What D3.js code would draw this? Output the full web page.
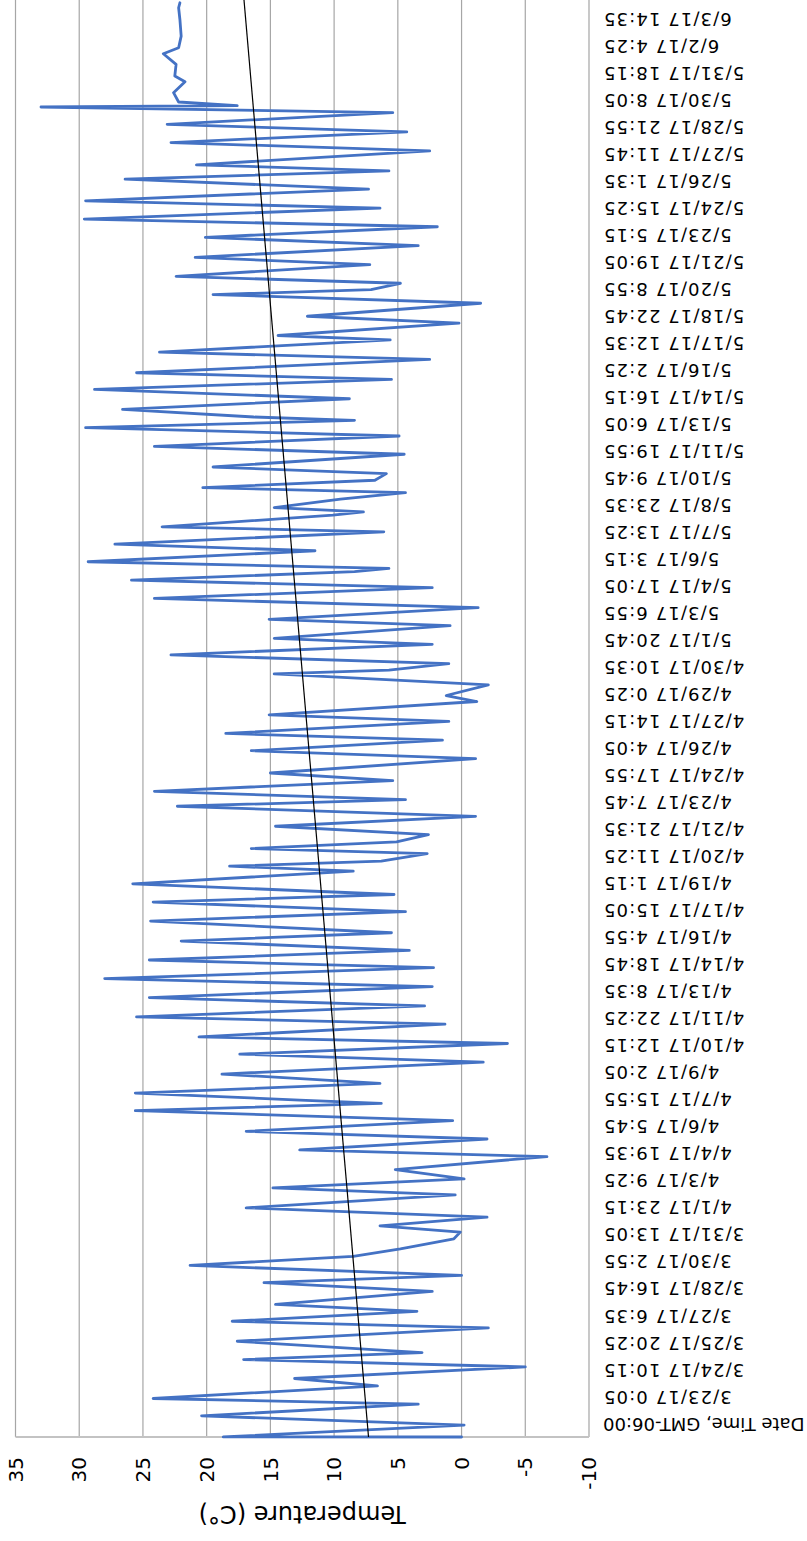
<!DOCTYPE html>
<html>
<head>
<meta charset="utf-8">
<script src="https://cdn.jsdelivr.net/npm/d3@7"></script>
<style>
  html, body { margin: 0; padding: 0; background: #fff; }
  svg { display: block; }
</style>
</head>
<body>
<div id="chart"></div>
<script>
// Logger readings: hours since the first category, and temperature in °C.
// The first category is the sheet header, which plots as zero.
const hours = [
  0, 0.1, 15.1, 26.8, 41.6, 48.7, 64.7, 74.0, 88.7, 98.0, 106.8, 121.1, 138.0, 146.4, 159.0, 167.8,
  184.3, 195.2, 204.5, 217.1, 228.4, 238.1, 250.7, 259.2, 267.2, 278.1, 289.9, 306.3, 315.1, 326.5,
  338.3, 354.7, 363.1, 377.0, 386.7, 400.2, 412.8, 422.0, 426.2, 435.1, 447.3, 459.1, 474.2, 484.3,
  497.8, 506.2, 522.2, 531.5, 545.3, 555.9, 569.8, 579.9, 593.8, 603.4, 615.6, 627.4, 637.9, 652.7,
  664.5, 676.7, 686.3, 699.8, 715.8, 722.1, 728.4, 738.1, 744.4, 752.8, 762.1, 772.6, 785.2, 797.9,
  806.3, 816.8, 830.3, 840.0, 858.1, 868.2, 881.6, 890.0, 905.2, 913.6, 930.4, 938.0, 951.5, 965.4,
  970.0, 978.4, 989.4, 1002.8, 1010.4, 1026.4, 1034.4, 1049.1, 1060.9, 1074.4, 1084.0, 1094.6,
  1098.8, 1107.2, 1121.1, 1129.5, 1145.1, 1151.4, 1166.1, 1170.3, 1175.8, 1186.3, 1194.7, 1201.0,
  1210.3, 1218.7, 1227.1, 1243.2, 1253.2, 1266.3, 1276.8, 1286.1, 1290.3, 1300.0, 1313.4, 1325.2,
  1337.9, 1346.3, 1363.1, 1372.4, 1387.9, 1393.4, 1409.0, 1417.8, 1434.2, 1445.2, 1451.5, 1459.5,
  1468.3, 1483.0, 1492.3, 1507.0, 1517.6, 1531.0, 1540.7, 1554.6, 1563.8, 1578.6, 1591.2, 1601.7,
  1609.3, 1627.0, 1637.5, 1651.0, 1660.6, 1675.4, 1682.5, 1684.2, 1688.8, 1700.6, 1714.5, 1721.7,
  1736.4, 1749.9, 1757.5, 1772.2, 1793.2, 1808.0, 1814.3
];
const temps = [
  0, 18.7, -0.2, 20.4, 3.4, 24.2, 6.6, 13.1, -5.0, 17.1, 3.1, 17.6, -2.1, 18.0, 3.5, 14.6,
  2.3, 15.5, 0.0, 21.3, 8.5, 4.8, 0.6, 0.1, 6.4, -2.0, 16.9, 0.5, 14.8, -0.2,
  5.2, -6.7, 12.7, -2.0, 16.9, 0.7, 25.6, 6.3, 12.7, 25.6, 6.4, 18.8, -1.7, 17.4,
  -3.6, 20.6, 1.3, 25.5, 2.9, 24.5, 2.3, 28.0, 2.2, 24.5, 4.1, 22.0, 5.5, 24.4,
  4.4, 24.2, 5.3, 25.8, 8.5, 18.2, 6.3, 2.7, 16.5, 5.1, 2.6, 14.6, -1.1, 22.3,
  4.4, 24.1, 5.4, 15.0, -1.1, 16.5, 1.5, 18.5, 1.0, 15.1, -1.2, 1.2, -2.1, 14.7,
  5.7, 1.0, 22.8, 2.3, 14.7, 0.9, 15.1, -1.3, 24.1, 2.3, 25.9, 8.4,
  5.7, 29.3, 11.5, 27.2, 6.1, 23.5, 10.1, 7.7, 14.7, 9.5, 4.4, 20.3,
  6.8, 5.9, 19.5, 4.5, 24.1, 4.9, 29.5, 8.4, 16.3, 26.6, 8.8, 28.8,
  5.5, 25.5, 2.5, 23.7, 5.6, 14.4, 0.2, 12.1, -1.5, 19.5, 7.1, 4.8,
  22.4, 7.2, 20.9, 3.4, 20.1, 1.9, 29.6, 6.4, 29.5, 7.3, 26.4, 5.7,
  20.8, 2.5, 22.8, 4.3, 23.1, 5.4, 33.0, 17.6, 22.2, 22.6, 21.7, 22.5,
  22.4, 23.4, 22.2, 22.0, 22.1, 22.2, 22.1
];

// Category labels, shown every 410 readings (5-minute logging interval).
const categoryLabels = [
  "Date Time, GMT-06:00",
  "3/23/17 0:05", "3/24/17 10:15", "3/25/17 20:25", "3/27/17 6:35", "3/28/17 16:45",
  "3/30/17 2:55", "3/31/17 13:05", "4/1/17 23:15", "4/3/17 9:25", "4/4/17 19:35",
  "4/6/17 5:45", "4/7/17 15:55", "4/9/17 2:05", "4/10/17 12:15", "4/11/17 22:25",
  "4/13/17 8:35", "4/14/17 18:45", "4/16/17 4:55", "4/17/17 15:05", "4/19/17 1:15",
  "4/20/17 11:25", "4/21/17 21:35", "4/23/17 7:45", "4/24/17 17:55", "4/26/17 4:05",
  "4/27/17 14:15", "4/29/17 0:25", "4/30/17 10:35", "5/1/17 20:45", "5/3/17 6:55",
  "5/4/17 17:05", "5/6/17 3:15", "5/7/17 13:25", "5/8/17 23:35", "5/10/17 9:45",
  "5/11/17 19:55", "5/13/17 6:05", "5/14/17 16:15", "5/16/17 2:25", "5/17/17 12:35",
  "5/18/17 22:45", "5/20/17 8:55", "5/21/17 19:05", "5/23/17 5:15", "5/24/17 15:25",
  "5/26/17 1:35", "5/27/17 11:45", "5/28/17 21:55", "5/30/17 8:05", "5/31/17 18:15",
  "6/2/17 4:25", "6/3/17 14:35"
];
const readingsPerLabel = 410;
const minutesPerReading = 5;

const tempTicks = [-10, -5, 0, 5, 10, 15, 20, 25, 30, 35];

// Linear trend of the whole record
const trendStart = 7.3;        // °C at the first category
const trendPerDay = 0.129;     // °C per day
const trendEndHours = 1830;

const W = 807, H = 1541;
const plot = { left: 218, right: 791.5, top: 104 };

const svg = d3.select("#chart").append("svg")
  .attr("width", W).attr("height", H)
  .attr("viewBox", `0 0 ${W} ${H}`);

// The sheet is drawn turned half a revolution.
const g = svg.append("g").attr("transform", `rotate(180 ${W / 2} ${H / 2})`);

const x = d3.scaleLinear().domain([-10, 35]).range([plot.left, plot.right]);
const pxPerHour = 0.7905;
const y = d3.scaleLinear().domain([0, 1000]).range([plot.top, plot.top + 1000 * pxPerHour]);
const bottomY = y(trendEndHours);

// Gridlines
g.append("g").selectAll("line")
  .data(tempTicks.filter(t => t > -10))
  .join("line")
  .attr("x1", d => x(d)).attr("x2", d => x(d))
  .attr("y1", plot.top).attr("y2", bottomY)
  .attr("stroke", "#a6a6a6").attr("stroke-width", 1.2);

// Axis lines
g.append("line")
  .attr("x1", x(-10)).attr("x2", x(-10))
  .attr("y1", plot.top).attr("y2", bottomY)
  .attr("stroke", "#c3c3c3").attr("stroke-width", 1.8);
g.append("line")
  .attr("x1", x(-10)).attr("x2", x(35))
  .attr("y1", plot.top).attr("y2", plot.top)
  .attr("stroke", "#c3c3c3").attr("stroke-width", 1.8);

// Temperature tick labels
g.append("g").selectAll("text")
  .data(tempTicks)
  .join("text")
  .attr("transform", d => `translate(${x(d)},84) rotate(90)`)
  .attr("text-anchor", "end")
  .attr("dy", "0.36em")
  .attr("font-family", "DejaVu Sans, sans-serif")
  .attr("font-size", 20)
  .attr("fill", "#000")
  .text(d => d);

// Axis title
g.append("text")
  .attr("x", (plot.left + plot.right) / 2)
  .attr("y", 35)
  .attr("text-anchor", "middle")
  .attr("font-family", "DejaVu Sans, sans-serif")
  .attr("font-size", 24)
  .attr("fill", "#000")
  .text("Temperature (C°)");

// Category labels
const labelOffset = 13;
g.append("g").selectAll("text")
  .data(categoryLabels)
  .join("text")
  .attr("x", 204)
  .attr("y", (d, i) => y(i * readingsPerLabel * minutesPerReading / 60) + labelOffset)
  .attr("text-anchor", "end")
  .attr("dy", "0.36em")
  .attr("font-family", "DejaVu Sans, sans-serif")
  .attr("font-size", 18)
  .attr("letter-spacing", (d, i) => i === 0 ? 0 : 1.1)
  .attr("fill", "#000")
  .text(d => d);

// Temperature series
const series = d3.zip(hours, temps);
const line = d3.line().x(d => x(d[1])).y(d => y(d[0]));
g.append("path")
  .datum(series)
  .attr("d", line)
  .attr("fill", "none")
  .attr("stroke", "#4472C4")
  .attr("stroke-width", 2.8)
  .attr("stroke-linejoin", "round")
  .attr("stroke-linecap", "round");

// Trend line
const trend = [0, trendEndHours].map(h => [h, trendStart + trendPerDay * h / 24]);
g.append("path")
  .datum(trend)
  .attr("d", line)
  .attr("fill", "none")
  .attr("stroke", "#000")
  .attr("stroke-width", 1.2);
</script>
</body>
</html>
